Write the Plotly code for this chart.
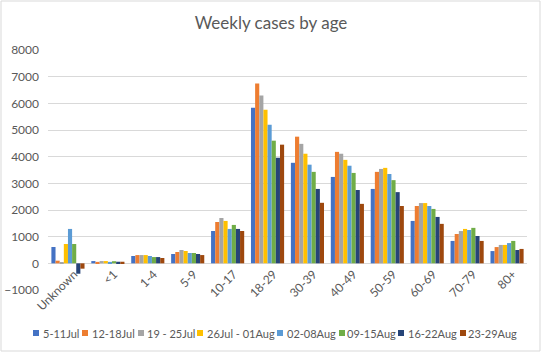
import plotly.graph_objects as go

categories = ["Unknown", "<1", "1-4", "5-9", "10-17", "18-29", "30-39", "40-49", "50-59", "60-69", "70-79", "80+"]
series_names = ["5-11Jul", "12-18Jul", "19 - 25Jul", "26Jul - 01Aug", "02-08Aug", "09-15Aug", "16-22Aug", "23-29Aug"]
colors = ["#4472C4", "#ED7D31", "#A5A5A5", "#FFC000", "#5B9BD5", "#70AD47", "#264478", "#9E480E"]

w_5_11jul = [613, 85, 275, 350, 1213, 5838, 3770, 3240, 2790, 1590, 840, 460]
w_12_18jul = [100, 55, 310, 425, 1550, 6740, 4750, 4180, 3430, 2150, 1100, 610]
w_19_25jul = [50, 85, 310, 500, 1700, 6290, 4480, 4110, 3540, 2260, 1210, 690]
w_26jul_01aug = [725, 85, 310, 463, 1590, 5763, 4110, 3880, 3580, 2260, 1290, 690]
w_02_08aug = [1290, 55, 275, 387, 1290, 5200, 3700, 3660, 3350, 2150, 1250, 760]
w_09_15aug = [725, 80, 235, 387, 1440, 4600, 3430, 3390, 3120, 2040, 1330, 840]
w_16_22aug = [-390, 60, 235, 350, 1290, 3960, 2790, 2750, 2670, 1740, 1025, 500]
w_23_29aug = [-200, 60, 200, 310, 1213, 4450, 2270, 2230, 2150, 1480, 840, 540]

series_values = [w_5_11jul, w_12_18jul, w_19_25jul, w_26jul_01aug,
                 w_02_08aug, w_09_15aug, w_16_22aug, w_23_29aug]

yticks = [-1000, 0, 1000, 2000, 3000, 4000, 5000, 6000, 7000, 8000]

FONT = "Lato"
GREY = "#595959"

fig = go.Figure()
for name, vals, col in zip(series_names, series_values, colors):
    fig.add_trace(go.Bar(x=categories, y=vals, name=name, marker=dict(color=col, line=dict(width=0))))

W, H = 542, 353
ml, mr, mt, mb = 48, 15, 50, 63
pw = W - ml - mr
ph = H - mt - mb

def px_x(p):
    return (p - ml) / pw

def px_y(p):
    return 1 - (p - mt) / ph

# legend drawn as shapes (squares) + annotations (labels)
legend_sq_x = [33, 82, 138, 197, 277, 339, 398, 460]
legend_txt_x = [42, 91, 146, 206, 286, 346, 407, 467]
legend_y = 333
annotations = []
shapes = []
for name, col, sx, tx in zip(series_names, colors, legend_sq_x, legend_txt_x):
    shapes.append(dict(type="rect", xref="paper", yref="paper",
                       x0=px_x(sx), x1=px_x(sx + 6), y0=px_y(legend_y + 3), y1=px_y(legend_y - 3),
                       line=dict(width=0), fillcolor=col))
    annotations.append(dict(
        x=px_x(tx - 1), y=px_y(legend_y), xref="paper", yref="paper",
        xanchor="left", yanchor="middle", showarrow=False,
        text=name, font=dict(family=FONT, size=11, color=GREY),
    ))

shapes.append(dict(type="rect", xref="paper", yref="paper",
                   x0=px_x(1), x1=px_x(540), y0=px_y(351), y1=px_y(1),
                   line=dict(color="#D9D9D9", width=1), fillcolor="rgba(0,0,0,0)", layer="below"))

fig.update_layout(
    width=W, height=H,
    margin=dict(l=ml, r=mr, t=mt, b=mb, autoexpand=False),
    paper_bgcolor="white", plot_bgcolor="white",
    barmode="group", bargap=0.17, bargroupgap=0,
    showlegend=False,
    title=dict(text="Weekly cases by age", x=0.5, xref="container", xanchor="center",
               y=1 - 23 / H, yanchor="middle",
               font=dict(family=FONT, size=17, color=GREY)),
    font=dict(family=FONT, size=12, color=GREY),
    xaxis=dict(tickangle=-45, showgrid=False, showline=False, ticks="",
               anchor="free", position=px_y(264), ticklabelshift=6,
               tickfont=dict(family=FONT, size=12, color=GREY), automargin=False),
    yaxis=dict(range=[-1000, 8000], tickvals=yticks, showgrid=True, gridcolor="#D9D9D9",
               gridwidth=1, zeroline=True, zerolinecolor="#D9D9D9", zerolinewidth=1,
               ticks="", ticklabelstandoff=8, showline=False,
               tickfont=dict(family=FONT, size=12, color=GREY), automargin=False),
    annotations=annotations,
    shapes=shapes,
)

fig.write_html("out.html")
